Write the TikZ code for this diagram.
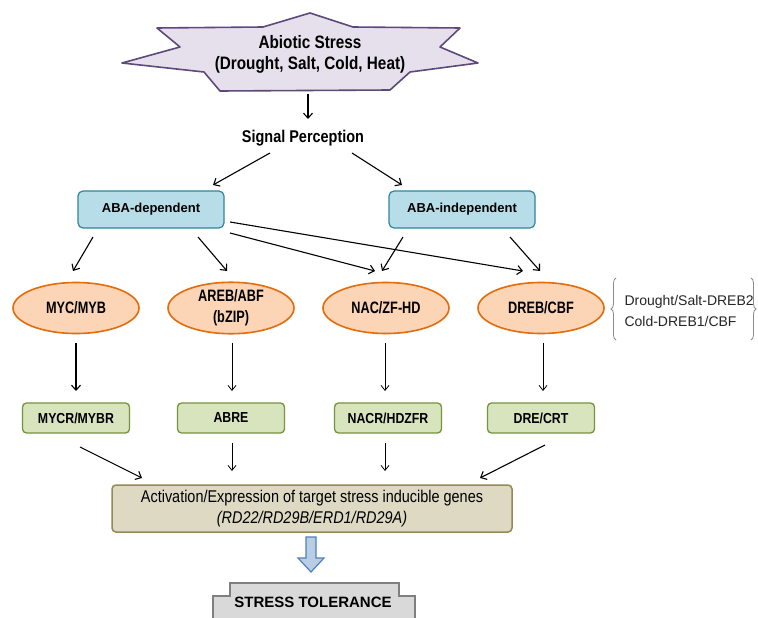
\documentclass[tikz,border=0pt]{standalone}
\usepackage{fontspec}
\setmainfont{Liberation Sans}
\newfontfamily\nf{Liberation Sans}[FakeStretch=0.85]
\newfontfamily\ef{Liberation Sans}[FakeStretch=0.77]
\usetikzlibrary{arrows.meta,calc,shapes.geometric,decorations.pathreplacing}
\definecolor{starfill}{HTML}{E5E0EC}
\definecolor{starline}{HTML}{5F497A}
\definecolor{abafill}{HTML}{B7DEE8}
\definecolor{abaline}{HTML}{31859C}
\definecolor{ellfill}{HTML}{FBD5B5}
\definecolor{ellline}{HTML}{E46C0A}
\definecolor{grfill}{HTML}{D7E4BD}
\definecolor{grline}{HTML}{77933C}
\definecolor{actfill}{HTML}{DDD9C3}
\definecolor{actline}{HTML}{948A54}
\definecolor{barfill}{HTML}{B9CDE5}
\definecolor{barline}{HTML}{4F81BD}
\definecolor{tolfill}{HTML}{D9D9D9}
\definecolor{tolline}{HTML}{7F7F7F}
\begin{document}
\begin{tikzpicture}[x=1pt,y=-1pt,
  arr/.style={line width=1.1pt,-{Straight Barb[length=5pt,width=9pt,line width=1.1pt]}},
  thinarr/.style={line width=0.8pt,-{Straight Barb[length=5pt,width=8pt,line width=0.8pt]}},
  ababox/.style={draw=abaline,fill=abafill,line width=1.2pt,rounded corners=5pt,minimum width=146pt,minimum height=37pt,font=\fontsize{13}{15}\selectfont\bfseries},
  ell/.style={ellipse,draw=ellline,fill=ellfill,line width=1.6pt,minimum width=126pt,minimum height=51pt,inner sep=0pt,align=center,font=\ef\fontsize{16.5}{21}\selectfont\bfseries},
  grbox/.style={draw=grline,fill=grfill,line width=1.3pt,rounded corners=4pt,minimum width=107pt,minimum height=30pt,font=\nf\fontsize{14.5}{16}\selectfont\bfseries},
]
\fill[white] (0,0) rectangle (758,618);
\useasboundingbox (0,0) rectangle (758,618);

% star
\draw[starline,fill=starfill,line width=1.6pt,line join=round]
  (310,13) -- (353,27) -- (460,28) -- (440,47) -- (478,63) -- (410,72) -- (390,90)
  -- (220,91) -- (204,72) -- (122,63) -- (180,47) -- (157,28) -- (263,27) -- cycle;
\node[align=center,font=\nf\fontsize{18}{21}\selectfont\bfseries] (abiotic) at (310,54) {Abiotic Stress\\(Drought, Salt, Cold, Heat)};

\node[font=\nf\fontsize{17}{20}\selectfont\bfseries] (sig) at (303,138) {Signal Perception};
\node[ababox] (abad) at (151,209.5) {ABA-dependent};
\node[ababox] (abai) at (462,209.5) {ABA-independent};

\node[ell] (myc) at (76,308) {MYC/MYB};
\node[ell] (areb) at (231,308) {AREB/ABF\\(bZIP)};
\node[ell] (nac) at (386,308) {NAC/ZF-HD};
\node[ell] (dreb) at (541,308) {DREB/CBF};

\node[grbox] (mycr) at (76,418) {MYCR/MYBR};
\node[grbox] (abre) at (231,418) {ABRE};
\node[grbox] (nacr) at (388,418) {NACR/HDZFR};
\node[grbox] (dre) at (541,418) {DRE/CRT};

\node[draw=actline,fill=actfill,line width=1.5pt,rounded corners=4pt,minimum width=400pt,minimum height=47pt,align=center,font=\nf\fontsize{17}{21}\selectfont] (act) at (312,508.5)
  {Activation/Expression of target stress inducible genes\\\textit{(RD22/RD29B/ERD1/RD29A)}};

% brace note
\draw[black!45,line width=0.8pt,decorate,decoration={brace,amplitude=5pt}] (616,340) -- (616,278);
\draw[black!45,line width=0.8pt,decorate,decoration={brace,amplitude=5pt}] (751,278) -- (751,340);
\node[anchor=west,align=left,text=black!85,font=\fontsize{14}{21}\selectfont] (note) at (621,311) {Drought/Salt-DREB2\\Cold-DREB1/CBF};

% arrows
\draw[arr] ($(abiotic)+(-2,40)$) -- ($(sig)+(5,-19)$);
\draw[arr] ($(sig)+(-33,15)$) -- ($(abad)+(62,-24.5)$);
\draw[arr] ($(sig)+(49,15)$) -- ($(abai)+(-60,-24.5)$);
\draw[arr] ($(abad)+(-58,27.5)$) -- ($(myc)+(-3,-37)$);
\draw[arr] ($(abad)+(47,27.5)$) -- ($(areb)+(-4,-37)$);
\draw[arr] ($(abad)+(79,23.5)$) -- ($(nac)+(-11,-37)$);
\draw[arr] ($(abad)+(79,12.5)$) -- ($(dreb)+(-18,-37)$);
\draw[arr] ($(abai)+(-59,27.5)$) -- ($(nac)+(-4,-37)$);
\draw[arr] ($(abai)+(48,27.5)$) -- ($(dreb)+(-1,-37)$);
\draw[arr] ($(myc)+(0,35)$) -- ($(mycr)+(0,-27)$);
\draw[thinarr] ($(areb)+(1,35)$) -- ($(abre)+(1,-27)$);
\draw[thinarr] ($(nac)+(-1,35)$) -- ($(nacr)+(-3,-27)$);
\draw[thinarr] ($(dreb)+(2,35)$) -- ($(dre)+(2,-27)$);
\draw[arr] ($(mycr)+(4,29)$) -- ($(act)+(-170,-30.5)$);
\draw[thinarr] ($(abre)+(1,25)$) -- ($(act)+(-80,-37.5)$);
\draw[thinarr] ($(nacr)+(-3,25)$) -- ($(act)+(73,-37.5)$);
\draw[arr] ($(dre)+(4,27)$) -- ($(act)+(168,-30.5)$);

% block arrow
\draw[barline,fill=barfill,line width=1.2pt,line join=miter]
  (306,537) -- (316,537) -- (316,558) -- (324,558) -- (311,572) -- (298,558) -- (306,558) -- cycle;

% stress tolerance
\begin{scope}
\clip (0,0) rectangle (758,618);
\draw[tolline,fill=tolfill,line width=1.5pt]
  (230,583) -- (399,583) -- (399,596) -- (415,596) -- (415,640) -- (213,640) -- (213,596) -- (230,596) -- cycle;
\end{scope}
\node[font=\fontsize{15}{18}\selectfont\bfseries] (tol) at (313,602) {STRESS TOLERANCE};
\end{tikzpicture}
\end{document}
